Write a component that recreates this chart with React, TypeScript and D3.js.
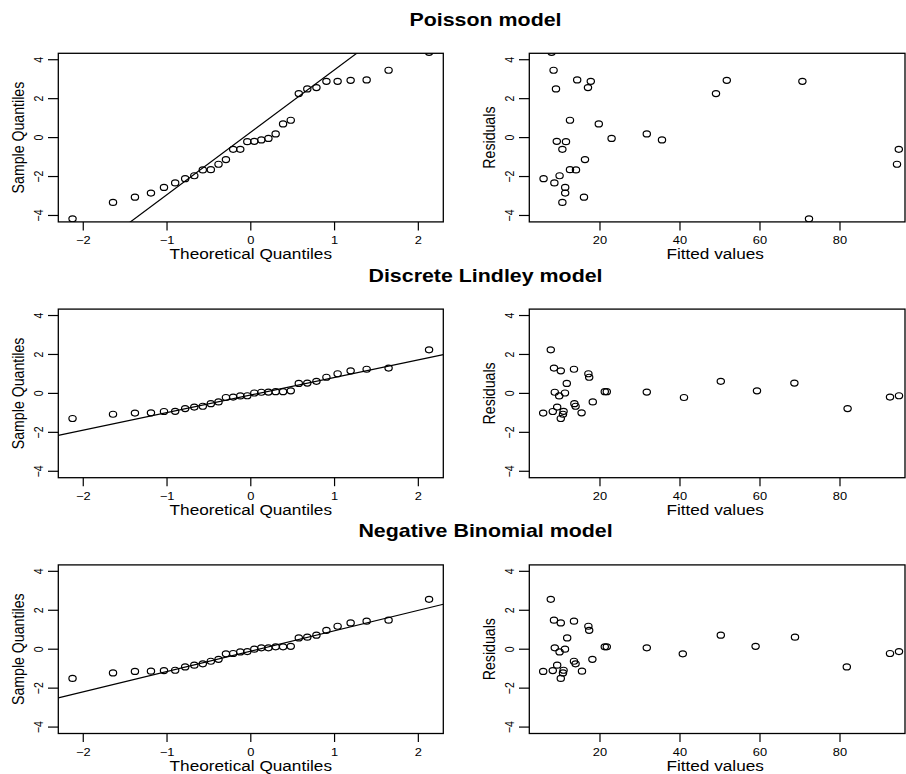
import React from "react";
import * as d3 from "d3";

// ---------- data ----------
const modelTitles = ["Poisson model", "Discrete Lindley model", "Negative Binomial model"];

const poissonFitted = [7.9, 8.4, 9.0, 14.3, 17.7, 17.0, 12.5, 19.7, 22.9, 31.7, 35.5, 49.0, 51.7, 70.6, 72.25, 94.7, 94.25, 9.2, 11.5, 10.6, 16.25, 12.5, 14.0, 5.9, 9.9, 8.6, 11.3, 11.3, 16.0, 10.6];
const poissonResid = [4.38, 3.46, 2.5, 2.96, 2.89, 2.57, 0.89, 0.7, -0.04, 0.19, -0.12, 2.26, 2.94, 2.89, -4.17, -0.6, -1.37, -0.19, -0.21, -0.6, -1.13, -1.65, -1.66, -2.11, -1.96, -2.33, -2.56, -2.85, -3.06, -3.33];

const lindleyFitted = [7.7, 8.5, 10.2, 13.5, 17.1, 17.3, 11.7, 8.7, 11.25, 9.8, 9.3, 13.6, 13.9, 18.2, 15.4, 5.8, 8.2, 10.9, 10.75, 10.2, 21.2, 21.7, 31.7, 41.0, 50.2, 59.25, 68.6, 81.9, 92.5, 94.75];
const lindleyResid = [2.24, 1.3, 1.16, 1.24, 1.01, 0.83, 0.51, 0.06, 0.02, -0.13, -0.7, -0.53, -0.66, -0.44, -1.0, -1.01, -0.93, -0.92, -1.07, -1.29, 0.09, 0.09, 0.07, -0.21, 0.62, 0.13, 0.53, -0.78, -0.19, -0.12];

const nbFitted = [7.7, 8.5, 10.2, 13.5, 17.1, 17.3, 11.8, 8.7, 11.25, 9.9, 9.3, 13.5, 13.9, 18.1, 15.5, 5.8, 8.2, 10.9, 10.75, 10.2, 21.2, 21.7, 31.7, 40.7, 50.2, 58.9, 68.75, 81.7, 92.5, 94.75];
const nbResid = [2.56, 1.49, 1.35, 1.44, 1.18, 0.97, 0.58, 0.07, 0.0, -0.14, -0.82, -0.62, -0.75, -0.52, -1.13, -1.14, -1.1, -1.08, -1.22, -1.5, 0.12, 0.12, 0.07, -0.24, 0.72, 0.15, 0.62, -0.91, -0.22, -0.12];

const yTicks = [-4, -2, 0, 2, 4];
const qqXTicks = [-2, -1, 0, 1, 2];
const fittedXTicks = [20, 40, 60, 80];

const models = [
  { title: modelTitles[0], fitted: poissonFitted, resid: poissonResid },
  { title: modelTitles[1], fitted: lindleyFitted, resid: lindleyResid },
  { title: modelTitles[2], fitted: nbFitted, resid: nbResid },
];

// ---------- normal quantile (for qqnorm / qqline) ----------
function qnorm(p: number): number {
  const a = [-3.969683028665376e1, 2.209460984245205e2, -2.759285104469687e2, 1.38357751867269e2, -3.066479806614716e1, 2.506628277459239];
  const b = [-5.447609879822406e1, 1.615858368580409e2, -1.556989798598866e2, 6.680131188771972e1, -1.328068155288572e1];
  const c = [-7.784894002430293e-3, -3.223964580411365e-1, -2.400758277161838, -2.549732539343734, 4.374664141464968, 2.938163982698783];
  const d = [7.784695709041462e-3, 3.224671290700398e-1, 2.445134137142996, 3.754408661907416];
  const pl = 0.02425;
  if (p < pl) {
    const q = Math.sqrt(-2 * Math.log(p));
    return (((((c[0] * q + c[1]) * q + c[2]) * q + c[3]) * q + c[4]) * q + c[5]) / ((((d[0] * q + d[1]) * q + d[2]) * q + d[3]) * q + 1);
  }
  if (p > 1 - pl) {
    const q = Math.sqrt(-2 * Math.log(1 - p));
    return -(((((c[0] * q + c[1]) * q + c[2]) * q + c[3]) * q + c[4]) * q + c[5]) / ((((d[0] * q + d[1]) * q + d[2]) * q + d[3]) * q + 1);
  }
  const q = p - 0.5;
  const r = q * q;
  return ((((((a[0] * r + a[1]) * r + a[2]) * r + a[3]) * r + a[4]) * r + a[5]) * q) / (((((b[0] * r + b[1]) * r + b[2]) * r + b[3]) * r + b[4]) * r + 1);
}
function ppoints(n: number): number[] {
  const a = n <= 10 ? 3 / 8 : 0.5;
  return d3.range(1, n + 1).map((i) => (i - a) / (n + 1 - 2 * a));
}

// ---------- layout ----------
const W = 906;
const H = 774;
const SX = 1.215; // horizontal stretch of the reference
const FONT = "'Liberation Sans', Arial, Helvetica, sans-serif";
const LEFT_BOX: [number, number] = [58.3, 443.3];
const RIGHT_BOX: [number, number] = [529.3, 905];
const ROW_TOP = 53.3;
const ROW_STEP = 255.8;
const BOX_H = 168.6;
const Y_DOMAIN: [number, number] = [-4.33, 4.33];
const QQ_DOMAIN: [number, number] = [-2.298, 2.298];
const FIT_DOMAIN: [number, number] = [2.33, 96.25];
const TICK_FS = 10.6;
const LAB_FS = 14.15;
const TITLE_FS = 17.6;
const TICK_LEN = 8.5;
const TITLE_X = 485.5;
const R = 3.0;

const fmt = (v: number) => (v < 0 ? "\u2212" + Math.abs(v) : String(v));

function SText(props: { x: number; y: number; text: string; size: number; rotate?: boolean; bold?: boolean }) {
  const { x, y, text, size, rotate, bold } = props;
  return (
    <text
      transform={`translate(${x},${y}) scale(${SX},1)${rotate ? " rotate(-90)" : ""}`}
      textAnchor="middle"
      fontFamily={FONT}
      fontSize={size}
      fontWeight={bold ? "bold" : "normal"}
      fill="#000"
    >
      {text}
    </text>
  );
}

type PanelProps = {
  id: string;
  box: [number, number];
  top: number;
  xDomain: [number, number];
  xTicks: number[];
  pts: { x: number; y: number }[];
  line?: { slope: number; intercept: number };
  xLabel: string;
  yLabel: string;
  labelShift: number;
};

function Panel({ id, box, top, xDomain, xTicks, pts, line, xLabel, yLabel, labelShift }: PanelProps) {
  const bottom = top + BOX_H;
  const x = d3.scaleLinear().domain(xDomain).range(box);
  const y = d3.scaleLinear().domain(Y_DOMAIN).range([bottom, top]);
  const clip = `clip-${id}`;
  return (
    <g>
      <defs>
        <clipPath id={clip}>
          <rect x={box[0]} y={top} width={box[1] - box[0]} height={BOX_H} />
        </clipPath>
      </defs>
      <g clipPath={`url(#${clip})`}>
        {line && (
          <line
            x1={x(xDomain[0])}
            y1={y(line.intercept + line.slope * xDomain[0])}
            x2={x(xDomain[1])}
            y2={y(line.intercept + line.slope * xDomain[1])}
            stroke="#000"
            strokeWidth={1.2}
          />
        )}
        {pts.map((p, i) => (
          <ellipse key={i} cx={x(p.x)} cy={y(p.y)} rx={R * SX} ry={R} fill="none" stroke="#000" strokeWidth={1.2} />
        ))}
      </g>
      <rect x={box[0]} y={top} width={box[1] - box[0]} height={BOX_H} fill="none" stroke="#000" strokeWidth={1.3} />
      {xTicks.map((t) => (
        <g key={"x" + t}>
          <line x1={x(t)} x2={x(t)} y1={bottom} y2={bottom + TICK_LEN} stroke="#000" strokeWidth={1.2} />
          <SText x={x(t)} y={bottom + 22.3} text={fmt(t)} size={TICK_FS} />
        </g>
      ))}
      {yTicks.map((t) => (
        <g key={"y" + t}>
          <line x1={box[0] - TICK_LEN * SX} x2={box[0]} y1={y(t)} y2={y(t)} stroke="#000" strokeWidth={1.2} />
          <SText x={box[0] - 15.5} y={y(t)} text={fmt(t)} size={TICK_FS} rotate />
        </g>
      ))}
      <SText x={(box[0] + box[1]) / 2 + labelShift} y={bottom + 37} text={xLabel} size={LAB_FS} />
      <SText x={box[0] - 34} y={(top + bottom) / 2} text={yLabel} size={LAB_FS} rotate />
    </g>
  );
}

export default function App() {
  return (
    <svg
      width={W}
      height={H}
      viewBox={`0 0 ${W} ${H}`}
      style={{ position: "absolute", left: 0, top: 0, background: "#fff" }}
    >
      <rect x={0} y={0} width={W} height={H} fill="#fff" />
      {models.map((m, i) => {
        const top = ROW_TOP + i * ROW_STEP;
        const sorted = m.resid.slice().sort((a, b) => a - b);
        const theo = ppoints(sorted.length).map(qnorm);
        const q1 = d3.quantile(sorted, 0.25) as number;
        const q3 = d3.quantile(sorted, 0.75) as number;
        const t1 = qnorm(0.25);
        const t3 = qnorm(0.75);
        const slope = (q3 - q1) / (t3 - t1);
        const intercept = q1 - slope * t1;
        const qqPts = sorted.map((v, k) => ({ x: theo[k], y: v }));
        const resPts = m.fitted.map((f, k) => ({ x: f, y: m.resid[k] }));
        return (
          <g key={m.title}>
            <SText x={TITLE_X} y={top - 27.5} text={m.title} size={TITLE_FS} bold />
            <Panel
              id={`qq${i}`}
              box={LEFT_BOX}
              top={top}
              xDomain={QQ_DOMAIN}
              xTicks={qqXTicks}
              pts={qqPts}
              line={{ slope, intercept }}
              xLabel="Theoretical Quantiles"
              yLabel="Sample Quantiles"
              labelShift={0}
            />
            <Panel
              id={`res${i}`}
              box={RIGHT_BOX}
              top={top}
              xDomain={FIT_DOMAIN}
              xTicks={fittedXTicks}
              pts={resPts}
              xLabel="Fitted values"
              yLabel="Residuals"
              labelShift={-2}
            />
          </g>
        );
      })}
    </svg>
  );
}
